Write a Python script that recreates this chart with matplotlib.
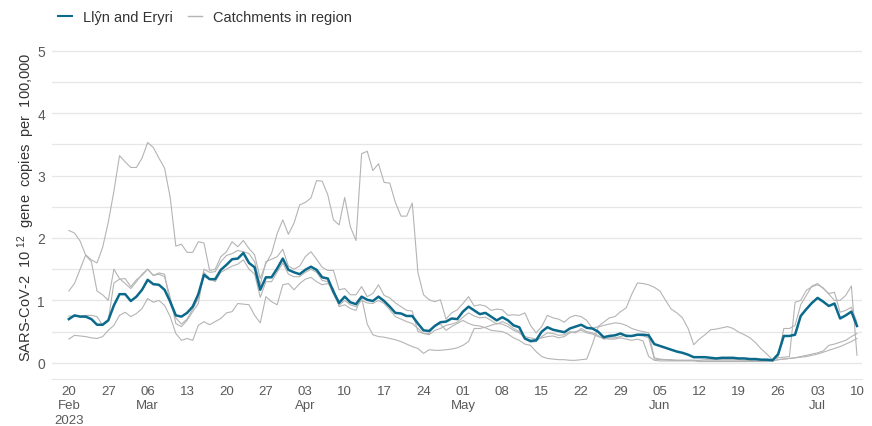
import matplotlib
matplotlib.use("Agg")
import matplotlib.pyplot as plt
import pandas as pd

plt.rcParams["font.family"] = ["Liberation Sans", "DejaVu Sans"]
plt.rcParams["mathtext.default"] = "regular"

# daily values, 20 Feb 2023 - 10 Jul 2023
dates = pd.date_range("2023-02-20", "2023-07-10", freq="D")

llyn_eryri = [
    0.70, 0.76, 0.74, 0.74, 0.70, 0.61, 0.61, 0.68, 0.92, 1.10,
    1.10, 0.99, 1.06, 1.17, 1.33, 1.26, 1.25, 1.17, 0.98, 0.76,
    0.74, 0.80, 0.90, 1.10, 1.41, 1.34, 1.34, 1.49, 1.57, 1.66,
    1.67, 1.76, 1.60, 1.53, 1.17, 1.37, 1.37, 1.51, 1.67, 1.49,
    1.45, 1.42, 1.49, 1.54, 1.49, 1.37, 1.35, 1.14, 0.96, 1.06,
    0.97, 0.94, 1.06, 1.01, 0.99, 1.06, 0.99, 0.90, 0.80, 0.79,
    0.75, 0.75, 0.63, 0.52, 0.51, 0.59, 0.65, 0.66, 0.71, 0.70,
    0.82, 0.90, 0.84, 0.78, 0.80, 0.74, 0.68, 0.73, 0.68, 0.60,
    0.57, 0.39, 0.35, 0.36, 0.50, 0.57, 0.53, 0.51, 0.49, 0.55,
    0.58, 0.61, 0.56, 0.55, 0.50, 0.41, 0.43, 0.44, 0.47, 0.43,
    0.43, 0.45, 0.45, 0.44, 0.30, 0.27, 0.24, 0.21, 0.18, 0.16,
    0.13, 0.09, 0.09, 0.09, 0.08, 0.07, 0.08, 0.08, 0.08, 0.07,
    0.07, 0.06, 0.06, 0.05, 0.05, 0.04, 0.14, 0.43, 0.43, 0.45,
    0.75, 0.86, 0.96, 1.04, 0.98, 0.91, 0.95, 0.71, 0.76, 0.82, 0.59,
]

catchment_a = [
    1.15, 1.27, 1.50, 1.73, 1.65, 1.60, 1.85, 2.25, 2.75, 3.32,
    3.22, 3.13, 3.13, 3.28, 3.53, 3.45, 3.28, 3.12, 2.65, 1.87,
    1.90, 1.77, 1.77, 1.94, 1.92, 1.48, 1.50, 1.70, 1.78, 1.94,
    1.86, 1.96, 1.83, 1.73, 1.35, 1.59, 1.75, 2.07, 2.29, 2.06,
    2.24, 2.53, 2.57, 2.64, 2.92, 2.91, 2.69, 2.29, 2.21, 2.65,
    2.18, 1.96, 3.35, 3.39, 3.08, 3.19, 2.89, 2.88, 2.57, 2.35,
    2.35, 2.56, 1.45, 1.09, 1.01, 0.98, 1.01, 0.70, 0.80, 0.85,
    0.95, 1.06, 0.91, 0.93, 0.91, 0.84, 0.86, 0.85, 0.76, 0.77,
    0.76, 0.80, 0.60, 0.48, 0.58, 0.76, 0.72, 0.70, 0.65, 0.73,
    0.76, 0.74, 0.68, 0.55, 0.58, 0.65, 0.72, 0.74, 0.82, 0.88,
    1.10, 1.28, 1.27, 1.25, 1.21, 1.15, 1.00, 0.86, 0.80, 0.72,
    0.55, 0.29, 0.38, 0.45, 0.53, 0.54, 0.56, 0.58, 0.55, 0.49,
    0.45, 0.40, 0.32, 0.22, 0.14, 0.05, 0.08, 0.09, 0.10, 0.97,
    1.00, 1.16, 1.22, 1.25, 1.20, 1.10, 1.00, 1.00, 1.08, 1.23, 0.12,
]

catchment_b = [
    2.12, 2.08, 1.95, 1.72, 1.62, 1.15, 1.09, 1.00, 1.50, 1.35,
    1.27, 1.19, 1.30, 1.42, 1.50, 1.40, 1.44, 1.42, 0.95, 0.72,
    0.62, 0.70, 0.86, 1.03, 1.50, 1.45, 1.46, 1.62, 1.72, 1.75,
    1.80, 1.78, 1.75, 1.62, 1.25, 1.62, 1.66, 1.70, 1.82, 1.55,
    1.50, 1.55, 1.70, 1.78, 1.66, 1.53, 1.48, 1.48, 1.17, 1.19,
    1.09, 1.09, 1.22, 1.06, 1.11, 1.25, 1.08, 1.04, 0.96, 0.90,
    0.84, 0.83, 0.50, 0.47, 0.47, 0.60, 0.62, 0.52, 0.58, 0.63,
    0.68, 0.63, 0.60, 0.59, 0.56, 0.52, 0.51, 0.50, 0.46, 0.40,
    0.36, 0.30, 0.28, 0.18, 0.10, 0.07, 0.06, 0.05, 0.05, 0.04,
    0.04, 0.05, 0.06, 0.30, 0.57, 0.60, 0.62, 0.64, 0.63, 0.60,
    0.55, 0.52, 0.50, 0.48, 0.08, 0.06, 0.05, 0.05, 0.04, 0.04,
    0.04, 0.04, 0.03, 0.03, 0.03, 0.03, 0.03, 0.03, 0.03, 0.03,
    0.03, 0.03, 0.03, 0.03, 0.03, 0.03, 0.05, 0.06, 0.07, 0.08,
    0.10, 0.12, 0.14, 0.16, 0.19, 0.28, 0.30, 0.33, 0.36, 0.42, 0.47,
]

catchment_c = [
    0.75, 0.74, 0.75, 0.76, 0.76, 0.74, 0.60, 0.68, 1.28, 1.34,
    1.35, 1.22, 1.33, 1.40, 1.50, 1.40, 1.42, 1.38, 1.05, 0.63,
    0.58, 0.68, 0.82, 0.95, 1.45, 1.35, 1.30, 1.45, 1.50, 1.55,
    1.58, 1.65, 1.50, 1.42, 1.05, 1.30, 1.30, 1.45, 1.60, 1.42,
    1.38, 1.38, 1.45, 1.50, 1.45, 1.32, 1.30, 1.10, 0.92, 1.00,
    0.93, 0.90, 1.00, 0.96, 0.95, 1.00, 0.95, 0.85, 0.74, 0.70,
    0.66, 0.63, 0.55, 0.47, 0.45, 0.52, 0.55, 0.60, 0.62, 0.65,
    0.73, 0.80, 0.75, 0.72, 0.73, 0.68, 0.62, 0.66, 0.62, 0.55,
    0.50, 0.38, 0.33, 0.34, 0.42, 0.48, 0.47, 0.44, 0.45, 0.50,
    0.48, 0.55, 0.50, 0.48, 0.44, 0.38, 0.40, 0.40, 0.42, 0.45,
    0.42, 0.44, 0.43, 0.40, 0.06, 0.05, 0.05, 0.04, 0.04, 0.04,
    0.04, 0.04, 0.04, 0.05, 0.05, 0.05, 0.05, 0.05, 0.05, 0.05,
    0.04, 0.04, 0.04, 0.04, 0.03, 0.04, 0.10, 0.55, 0.55, 0.60,
    0.93, 1.08, 1.23, 1.27, 1.19, 1.11, 1.13, 0.81, 0.84, 0.89, 0.65,
]

catchment_d = [
    0.38, 0.44, 0.43, 0.42, 0.40, 0.39, 0.42, 0.52, 0.60, 0.76,
    0.81, 0.74, 0.79, 0.87, 1.03, 0.97, 1.00, 0.92, 0.74, 0.47,
    0.36, 0.39, 0.36, 0.60, 0.66, 0.61, 0.66, 0.71, 0.80, 0.82,
    0.95, 0.94, 0.93, 0.76, 0.64, 1.06, 0.98, 0.93, 1.25, 1.27,
    1.17, 1.27, 1.34, 1.37, 1.30, 1.25, 1.27, 1.19, 0.90, 0.93,
    0.87, 0.84, 1.05, 0.62, 0.45, 0.42, 0.41, 0.39, 0.37, 0.34,
    0.30, 0.26, 0.23, 0.15, 0.21, 0.20, 0.20, 0.21, 0.22, 0.24,
    0.28, 0.34, 0.55, 0.55, 0.57, 0.60, 0.63, 0.62, 0.58, 0.52,
    0.48, 0.42, 0.40, 0.38, 0.40, 0.42, 0.43, 0.40, 0.42, 0.48,
    0.50, 0.52, 0.48, 0.46, 0.42, 0.39, 0.38, 0.38, 0.40, 0.38,
    0.36, 0.38, 0.35, 0.10, 0.04, 0.03, 0.03, 0.03, 0.03, 0.03,
    0.03, 0.03, 0.02, 0.02, 0.02, 0.02, 0.02, 0.02, 0.02, 0.02,
    0.02, 0.02, 0.02, 0.02, 0.02, 0.03, 0.05, 0.06, 0.07, 0.08,
    0.09, 0.10, 0.12, 0.14, 0.17, 0.20, 0.23, 0.26, 0.30, 0.34, 0.39,
]

catchments = [catchment_a, catchment_b, catchment_c, catchment_d]

tick_dates = pd.date_range("2023-02-20", "2023-07-10", freq="7D")
tick_labels = [
    "20\nFeb\n2023", "27", "06\nMar", "13", "20", "27", "03\nApr", "10",
    "17", "24", "01\nMay", "08", "15", "22", "29", "05\nJun", "12",
    "19", "26", "03\nJul", "10",
]

teal = "#0b6a8b"
grey = "#b4b4b4"

fig = plt.figure(figsize=(8.72, 4.27), dpi=100)
ax = fig.add_axes([0.0596, 0.110, 0.929, 0.7717])

for s in catchments:
    ax.plot(dates, s, color=grey, lw=0.8)
ax.plot(dates, llyn_eryri, color=teal, lw=1.8)

ax.set_xlim(dates[0] - pd.Timedelta(days=3), dates[-1] + pd.Timedelta(days=0.9))
ax.set_ylim(-0.26, 5.02)
ax.set_yticks([0, 1, 2, 3, 4, 5])
ax.set_yticks([0.5, 1.5, 2.5, 3.5, 4.5], minor=True)
ax.grid(axis="y", which="both", color="#e6e6e6", lw=0.9)
ax.set_axisbelow(True)

ax.set_xticks(tick_dates)
ax.set_xticklabels(tick_labels, family=["Liberation Sans Narrow", "Liberation Sans"],
                   fontsize=9.5, color="#595959", linespacing=1.3)
ax.tick_params(axis="x", length=0, pad=4)
ax.tick_params(axis="y", which="both", length=0, pad=5, labelsize=10, labelcolor="#595959")

for side in ["top", "right", "left"]:
    ax.spines[side].set_visible(False)
ax.spines["bottom"].set_color("#e6e6e6")

ax.set_ylabel("SARS-CoV-2  10 $^{12}$  gene  copies  per  100,000", fontsize=10.5, color="#333333")
ax.yaxis.set_label_coords(-0.019, 0.525)

legend_lines = [plt.Line2D([], [], color=teal, lw=1.5), plt.Line2D([], [], color=grey, lw=1)]
fig.legend(legend_lines, ["Llŷn and Eryri", "Catchments in region"], loc="upper left",
           bbox_to_anchor=(0.052, 1.005), ncol=2, frameon=False, fontsize=10.5,
           handlelength=0.95, handletextpad=0.7, columnspacing=1.1, labelcolor="#333333")

fig.savefig("out.png", dpi=100)
